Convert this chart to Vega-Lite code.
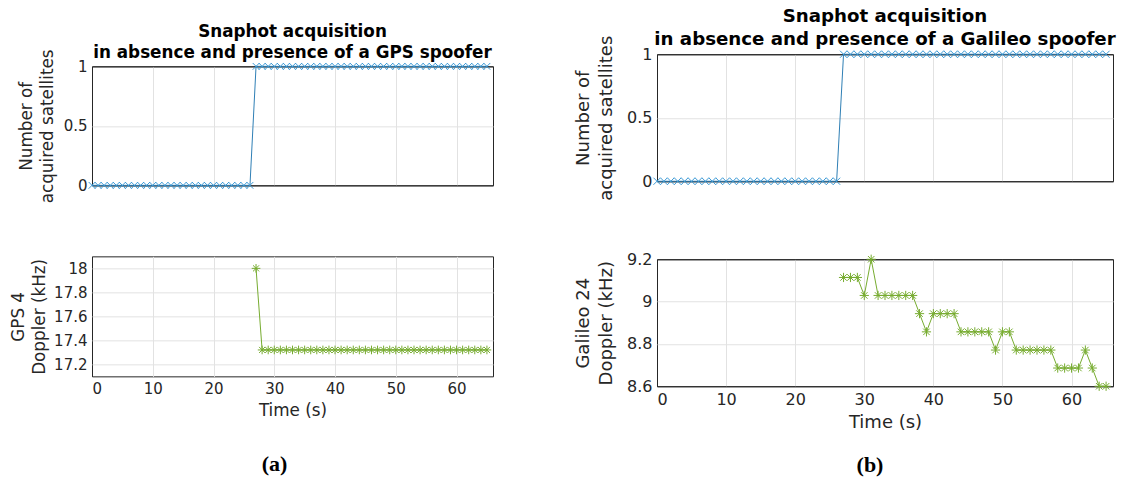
{
  "$schema": "https://vega.github.io/schema/vega-lite/v6.json",
  "background": "white",
  "padding": {"left": 10, "top": 6, "right": 0, "bottom": 0},
  "config": {
    "font": "DejaVu Sans",
    "view": {"stroke": "#262626", "strokeWidth": 1},
    "axis": {
      "grid": true, "gridColor": "#e2e2e2", "gridWidth": 1,
      "domain": false, "ticks": false,
      "labelColor": "#262626", "labelPadding": 5,
      "titleColor": "#262626", "titleFontWeight": "normal"
    },
    "title": {"font": "DejaVu Sans", "fontWeight": "bold", "color": "#000000", "frame": "group"}
  },
  "datasets": {
    "sat": [
      {"t":0,"n":0},{"t":1,"n":0},{"t":2,"n":0},{"t":3,"n":0},{"t":4,"n":0},{"t":5,"n":0},{"t":6,"n":0},{"t":7,"n":0},{"t":8,"n":0},{"t":9,"n":0},
      {"t":10,"n":0},{"t":11,"n":0},{"t":12,"n":0},{"t":13,"n":0},{"t":14,"n":0},{"t":15,"n":0},{"t":16,"n":0},{"t":17,"n":0},{"t":18,"n":0},{"t":19,"n":0},
      {"t":20,"n":0},{"t":21,"n":0},{"t":22,"n":0},{"t":23,"n":0},{"t":24,"n":0},{"t":25,"n":0},{"t":26,"n":0},{"t":27,"n":1},{"t":28,"n":1},{"t":29,"n":1},
      {"t":30,"n":1},{"t":31,"n":1},{"t":32,"n":1},{"t":33,"n":1},{"t":34,"n":1},{"t":35,"n":1},{"t":36,"n":1},{"t":37,"n":1},{"t":38,"n":1},{"t":39,"n":1},
      {"t":40,"n":1},{"t":41,"n":1},{"t":42,"n":1},{"t":43,"n":1},{"t":44,"n":1},{"t":45,"n":1},{"t":46,"n":1},{"t":47,"n":1},{"t":48,"n":1},{"t":49,"n":1},
      {"t":50,"n":1},{"t":51,"n":1},{"t":52,"n":1},{"t":53,"n":1},{"t":54,"n":1},{"t":55,"n":1},{"t":56,"n":1},{"t":57,"n":1},{"t":58,"n":1},{"t":59,"n":1},
      {"t":60,"n":1},{"t":61,"n":1},{"t":62,"n":1},{"t":63,"n":1},{"t":64,"n":1},{"t":65,"n":1}
    ],
    "gpsDop": [
      {"t":27,"d":18.0},{"t":28,"d":17.32},{"t":29,"d":17.32},{"t":30,"d":17.32},{"t":31,"d":17.32},{"t":32,"d":17.32},{"t":33,"d":17.32},{"t":34,"d":17.32},
      {"t":35,"d":17.32},{"t":36,"d":17.32},{"t":37,"d":17.32},{"t":38,"d":17.32},{"t":39,"d":17.32},{"t":40,"d":17.32},{"t":41,"d":17.32},{"t":42,"d":17.32},
      {"t":43,"d":17.32},{"t":44,"d":17.32},{"t":45,"d":17.32},{"t":46,"d":17.32},{"t":47,"d":17.32},{"t":48,"d":17.32},{"t":49,"d":17.32},{"t":50,"d":17.32},
      {"t":51,"d":17.32},{"t":52,"d":17.32},{"t":53,"d":17.32},{"t":54,"d":17.32},{"t":55,"d":17.32},{"t":56,"d":17.32},{"t":57,"d":17.32},{"t":58,"d":17.32},
      {"t":59,"d":17.32},{"t":60,"d":17.32},{"t":61,"d":17.32},{"t":62,"d":17.32},{"t":63,"d":17.32},{"t":64,"d":17.32},{"t":65,"d":17.32}
    ],
    "galDop": [
      {"t":27,"d":9.114},{"t":28,"d":9.114},{"t":29,"d":9.114},{"t":30,"d":9.029},{"t":31,"d":9.2},{"t":32,"d":9.029},{"t":33,"d":9.029},{"t":34,"d":9.029},
      {"t":35,"d":9.029},{"t":36,"d":9.029},{"t":37,"d":9.029},{"t":38,"d":8.943},{"t":39,"d":8.857},{"t":40,"d":8.943},{"t":41,"d":8.943},{"t":42,"d":8.943},
      {"t":43,"d":8.943},{"t":44,"d":8.857},{"t":45,"d":8.857},{"t":46,"d":8.857},{"t":47,"d":8.857},{"t":48,"d":8.857},{"t":49,"d":8.771},{"t":50,"d":8.857},
      {"t":51,"d":8.857},{"t":52,"d":8.771},{"t":53,"d":8.771},{"t":54,"d":8.771},{"t":55,"d":8.771},{"t":56,"d":8.771},{"t":57,"d":8.771},{"t":58,"d":8.686},
      {"t":59,"d":8.686},{"t":60,"d":8.686},{"t":61,"d":8.686},{"t":62,"d":8.771},{"t":63,"d":8.686},{"t":64,"d":8.6},{"t":65,"d":8.6}
    ]
  },
  "spacing": 80,
  "center": true,
  "hconcat": [
    {
      "spacing": 52,
      "vconcat": [
        {
          "width": 401, "height": 119,
          "title": {"text": ["Snaphot acquisition", "in absence and presence of a GPS spoofer"], "fontSize": 16.8, "lineHeight": 21, "offset": -13},
          "data": {"name": "sat"},
          "encoding": {
            "x": {"field": "t", "type": "quantitative", "scale": {"domain": [0, 66], "nice": false}, "axis": {"labels": false, "title": null, "values": [0, 10, 20, 30, 40, 50, 60], "gridColor": {"condition": {"test": "datum.value == 0", "value": "#262626"}, "value": "#e2e2e2"}}},
            "y": {"field": "n", "type": "quantitative", "scale": {"domain": [0, 1], "nice": false}, "axis": {"values": [0, 0.5, 1], "format": "~g", "title": ["Number of", "acquired satellites"], "labelFontSize": 15, "titleFontSize": 16.8, "titleLineHeight": 21, "titlePadding": 7, "gridColor": {"condition": {"test": "datum.value == 0 || datum.value == 1", "value": "#262626"}, "value": "#e2e2e2"}}}
          },
          "layer": [
            {"mark": {"type": "line", "color": "#2f7fb5", "strokeWidth": 1}},
            {"mark": {"type": "point", "shape": "M-1,-1L1,1M-1,1L1,-1", "size": 45, "filled": false, "color": "#3c9ad6", "strokeWidth": 1, "opacity": 1}}
          ]
        },
        {
          "width": 401, "height": 120,
          "title": {"text": "(a)", "orient": "bottom", "font": "Liberation Serif", "fontSize": 22, "fontWeight": "bold", "offset": 35, "dx": -18},
          "data": {"name": "gpsDop"},
          "encoding": {
            "x": {"field": "t", "type": "quantitative", "scale": {"domain": [0, 66], "nice": false}, "axis": {"values": [0, 10, 20, 30, 40, 50, 60], "title": "Time (s)", "labelFontSize": 15, "titleFontSize": 16.8, "titlePadding": 6, "gridColor": {"condition": {"test": "datum.value == 0", "value": "#262626"}, "value": "#e2e2e2"}}},
            "y": {"field": "d", "type": "quantitative", "scale": {"domain": [17.1, 18.1], "nice": false, "zero": false}, "axis": {"values": [17.2, 17.4, 17.6, 17.8, 18], "format": "~g", "title": ["GPS 4", "Doppler (kHz)"], "labelFontSize": 15, "titleFontSize": 16.8, "titleLineHeight": 21, "titlePadding": 5}}
          },
          "layer": [
            {"mark": {"type": "line", "color": "#77AC30", "strokeWidth": 1}},
            {"mark": {"type": "point", "shape": "M-1,0L1,0M0,-1L0,1M-0.7,-0.7L0.7,0.7M-0.7,0.7L0.7,-0.7", "size": 75, "filled": false, "color": "#77AC30", "strokeWidth": 1, "opacity": 1}}
          ]
        }
      ]
    },
    {
      "spacing": 49,
      "vconcat": [
        {
          "width": 456, "height": 127,
          "title": {"text": ["Snaphot acquisition", "in absence and presence of a Galileo spoofer"], "fontSize": 18.2, "lineHeight": 23, "offset": -14},
          "data": {"name": "sat"},
          "encoding": {
            "x": {"field": "t", "type": "quantitative", "scale": {"domain": [0, 66], "nice": false}, "axis": {"labels": false, "title": null, "values": [0, 10, 20, 30, 40, 50, 60], "gridColor": {"condition": {"test": "datum.value == 0", "value": "#262626"}, "value": "#e2e2e2"}}},
            "y": {"field": "n", "type": "quantitative", "scale": {"domain": [0, 1], "nice": false}, "axis": {"values": [0, 0.5, 1], "format": "~g", "title": ["Number of", "acquired satellites"], "labelFontSize": 16, "titleFontSize": 18, "titleLineHeight": 23, "titlePadding": 11, "gridColor": {"condition": {"test": "datum.value == 0 || datum.value == 1", "value": "#262626"}, "value": "#e2e2e2"}}}
          },
          "layer": [
            {"mark": {"type": "line", "color": "#2f7fb5", "strokeWidth": 1}},
            {"mark": {"type": "point", "shape": "M-1,-1L1,1M-1,1L1,-1", "size": 50, "filled": false, "color": "#3c9ad6", "strokeWidth": 1, "opacity": 1}}
          ]
        },
        {
          "width": 456, "height": 127,
          "title": {"text": ["(b)", ""], "orient": "bottom", "font": "Liberation Serif", "fontSize": 22, "fontWeight": "bold", "lineHeight": 11, "offset": 24, "dx": -15},
          "data": {"name": "galDop"},
          "encoding": {
            "x": {"field": "t", "type": "quantitative", "scale": {"domain": [0, 66], "nice": false}, "axis": {"values": [0, 10, 20, 30, 40, 50, 60], "title": "Time (s)", "labelFontSize": 16, "titleFontSize": 18, "titlePadding": 6, "gridColor": {"condition": {"test": "datum.value == 0", "value": "#262626"}, "value": "#e2e2e2"}}},
            "y": {"field": "d", "type": "quantitative", "scale": {"domain": [8.6, 9.2], "nice": false, "zero": false}, "axis": {"values": [8.6, 8.8, 9, 9.2], "format": "~g", "title": ["Galileo 24", "Doppler (kHz)"], "labelFontSize": 16, "titleFontSize": 18, "titleLineHeight": 23, "titlePadding": 11, "gridColor": {"condition": {"test": "datum.value <= 8.6 || datum.value >= 9.2", "value": "#262626"}, "value": "#e2e2e2"}}}
          },
          "layer": [
            {"mark": {"type": "line", "color": "#77AC30", "strokeWidth": 1}},
            {"mark": {"type": "point", "shape": "M-1,0L1,0M0,-1L0,1M-0.7,-0.7L0.7,0.7M-0.7,0.7L0.7,-0.7", "size": 85, "filled": false, "color": "#77AC30", "strokeWidth": 1, "opacity": 1}}
          ]
        }
      ]
    }
  ]
}
